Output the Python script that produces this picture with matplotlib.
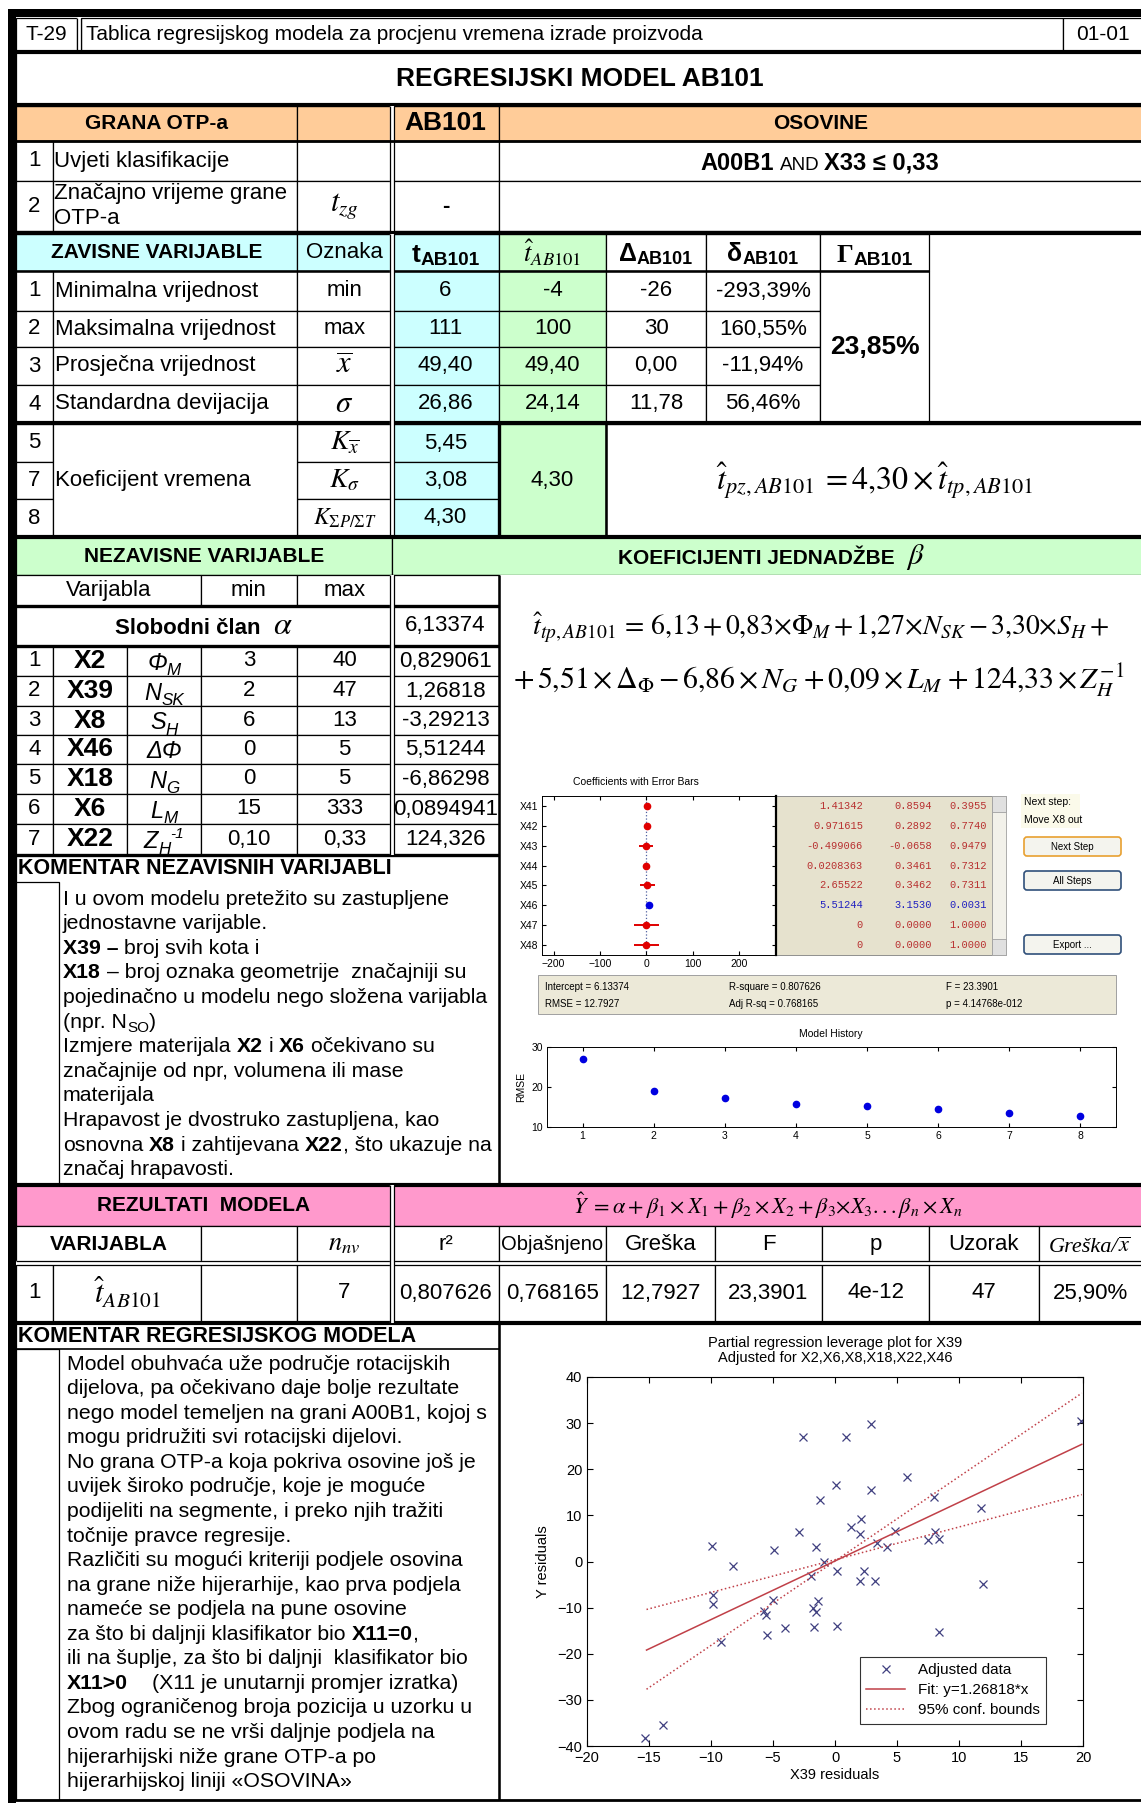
import matplotlib
matplotlib.use('Agg')
import matplotlib.pyplot as plt
from matplotlib.patches import Rectangle, FancyBboxPatch
from matplotlib.transforms import blended_transform_factory

# ---- data ----
doc_code = 'T-29'
doc_title = 'Tablica regresijskog modela za procjenu vremena izrade proizvoda'
doc_page = '01-01'
model_title = 'REGRESIJSKI MODEL AB101'

dep_labels = ['Minimalna vrijednost', 'Maksimalna vrijednost',
              'Prosječna vrijednost', 'Standardna devijacija']
dep_symbols = ['min', 'max', r'$\overline{x}$', r'$\sigma$']
t_ab101 = ['6', '111', '49,40', '26,86']
t_hat = ['-4', '100', '49,40', '24,14']
delta_abs = ['-26', '30', '0,00', '11,78']
delta_rel = ['-293,39%', '160,55%', '-11,94%', '56,46%']
gamma_val = '23,85%'

k_nums = ['5', '7', '8']
k_symbols = [r'$K_{\overline{x}}$', r'$K_{\sigma}$', r'$K_{\Sigma P/\Sigma T}$']
k_values = ['5,45', '3,08', '4,30']
k_model = '4,30'

ind_vars = ['X2', 'X39', 'X8', 'X46', 'X18', 'X6', 'X22']
ind_syms = [[('Φ', 'i'), ('M', 'isub')], [('N', 'i'), ('SK', 'isub')],
            [('S', 'i'), ('H', 'isub')], [('ΔΦ', 'i')], [('N', 'i'), ('G', 'isub')],
            [('L', 'i'), ('M', 'isub')], [('Z', 'i'), ('H', 'isub'), ('-1', 'isup')]]
ind_min = ['3', '2', '6', '0', '0', '15', '0,10']
ind_max = ['40', '47', '13', '5', '5', '333', '0,33']
ind_coef = ['0,829061', '1,26818', '-3,29213', '5,51244', '-6,86298', '0,0894941', '124,326']
intercept = '6,13374'

res_headers = ['r²', 'Objašnjeno', 'Greška', 'F', 'p', 'Uzorak']
res_values = ['0,807626', '0,768165', '12,7927', '23,3901', '4e-12', '47', '25,90%']
n_nv = '7'

# stepwise screenshot
sw_vars = ['X41', 'X42', 'X43', 'X44', 'X45', 'X46', 'X47', 'X48']
sw_coef = [1.41342, 0.971615, -0.499066, 0.0208363, 2.65522, 5.51244, 0, 0]
sw_tstat = [0.8594, 0.2892, -0.0658, 0.3461, 0.3462, 3.1530, 0.0, 0.0]
sw_pval = [0.3955, 0.7740, 0.9479, 0.7312, 0.7311, 0.0031, 1.0, 1.0]
sw_err = [4, 4, 16, 4, 17, 2, 27, 27]
sw_in = [False, False, False, False, False, True, False, False]
sw_stats = [['Intercept = 6.13374', 'R-square = 0.807626', 'F = 23.3901'],
            ['RMSE = 12.7927', 'Adj R-sq = 0.768165', 'p = 4.14768e-012']]
rmse_hist = [27.0, 18.9, 17.2, 15.7, 15.3, 14.4, 13.6, 12.79]

# partial regression leverage plot
pr_x = [19.8, -2.55, 0.9, 2.9, 0.05, 2.9, -1.24, 5.8, 8.0, 11.8, 2.1, 1.3, 2.0, -2.9, 4.8, 8.1,
        7.5, 8.4, 3.4, 4.2, -9.9, -4.9, -1.5, -8.2, -0.9, 0.16, 2.3, -1.9, 2.0, 3.2, 11.9, -9.8,
        -9.8, -5.0, -1.4, -1.8, -1.5, -5.7, -5.6, -5.5, -4.0, -1.7, 0.16, -9.2, 8.4, -13.9, -15.3]
pr_y = [30.4, 26.9, 26.9, 29.8, 16.6, 15.5, 13.3, 18.4, 14.0, 11.7, 9.2, 7.4, 5.9, 6.3, 6.7, 6.5,
        4.7, 4.8, 4.0, 3.1, 3.4, 2.6, 3.1, -0.9, -0.1, -2.0, -2.0, -3.1, -4.2, -4.2, -4.9, -7.2,
        -9.3, -8.3, -8.6, -10.0, -11.0, -10.8, -11.7, -15.9, -14.4, -14.2, -14.0, -17.5, -15.2, -35.5, -38.3]
fit_x = [-15.2, 19.9]
fit_y = [-19.2, 25.4]
conf_a = [-27.7, 36.5]
conf_b = [-10.4, 14.5]

comment1 = [
    [('I u ovom modelu pretežito su zastupljene', 'n')],
    [('jednostavne varijable.', 'n')],
    [('X39 –', 'b'), (' broj svih kota i', 'n')],
    [('X18', 'b'), (' – broj oznaka geometrije  značajniji su', 'n')],
    [('pojedinačno u modelu nego složena varijabla', 'n')],
    [('(npr. N', 'n'), ('SO', 'sub'), (')', 'n')],
    [('Izmjere materijala ', 'n'), ('X2', 'b'), (' i ', 'n'), ('X6', 'b'), (' očekivano su', 'n')],
    [('značajnije od npr, volumena ili mase', 'n')],
    [('materijala', 'n')],
    [('Hrapavost je dvostruko zastupljena, kao', 'n')],
    [('osnovna ', 'n'), ('X8', 'b'), (' i zahtijevana ', 'n'), ('X22', 'b'), (', što ukazuje na', 'n')],
    [('značaj hrapavosti.', 'n')],
]
comment2 = [
    [('Model obuhvaća uže područje rotacijskih', 'n')],
    [('dijelova, pa očekivano daje bolje rezultate', 'n')],
    [('nego model temeljen na grani A00B1, kojoj s', 'n')],
    [('mogu pridružiti svi rotacijski dijelovi.', 'n')],
    [('No grana OTP-a koja pokriva osovine još je', 'n')],
    [('uvijek široko područje, koje je moguće', 'n')],
    [('podijeliti na segmente, i preko njih tražiti', 'n')],
    [('točnije pravce regresije.', 'n')],
    [('Različiti su mogući kriteriji podjele osovina', 'n')],
    [('na grane niže hijerarhije, kao prva podjela', 'n')],
    [('nameće se podjela na pune osovine', 'n')],
    [('za što bi daljnji klasifikator bio ', 'n'), ('X11=0', 'b'), (',', 'n')],
    [('ili na šuplje, za što bi daljnji  klasifikator bio', 'n')],
    [('X11>0', 'b'), ('    (X11 je unutarnji promjer izratka)', 'n')],
    [('Zbog ograničenog broja pozicija u uzorku u', 'n')],
    [('ovom radu se ne vrši daljnje podjela na', 'n')],
    [('hijerarhijski niže grane OTP-a po', 'n')],
    [('hijerarhijskoj liniji «OSOVINA»', 'n')],
]

# ---- figure in pixel coordinates ----
W, H = 1141, 1803
plt.rcParams['font.family'] = ['Liberation Sans', 'DejaVu Sans']
plt.rcParams['mathtext.fontset'] = 'stix'

fig = plt.figure(figsize=(W / 100, H / 100), dpi=100)
ax = fig.add_axes([0, 0, 1, 1])
ax.set_xlim(0, W)
ax.set_ylim(H, 0)
ax.axis('off')
renderer = fig.canvas.get_renderer()

ORANGE = '#FFCC99'
CYAN = '#CCFFFF'
GREEN = '#CCFFCC'
PINK = '#FF99CC'


def px_axes(x0, y0, x1, y1):
    return fig.add_axes([x0 / W, 1 - y1 / H, (x1 - x0) / W, (y1 - y0) / H])


def rect(x0, y0, x1, y1, fc='white', lw=0.9, ec='black', z=1):
    ax.add_patch(Rectangle((x0, y0), x1 - x0, y1 - y0, facecolor=fc,
                           edgecolor=ec, linewidth=lw, zorder=z))


def text(x, y, s, size=16, ha='center', va='center', **kw):
    return ax.text(x, y, s, fontsize=size, ha=ha, va=va, zorder=6, **kw)


def cell(x0, y0, x1, y1, s='', fc='white', size=16, ha='center', pad=4, **kw):
    rect(x0, y0, x1, y1, fc)
    if s:
        tx = (x0 + x1) / 2 if ha == 'center' else x0 + pad
        text(tx, (y0 + y1) / 2, s, size=size, ha=ha, **kw)


def hline(y, x0, x1, lw=2.4):
    ax.plot([x0, x1], [y, y], color='black', lw=lw, solid_capstyle='butt', zorder=5)


def vline(x, y0, y1, lw=2.4):
    ax.plot([x, x], [y0, y1], color='black', lw=lw, solid_capstyle='butt', zorder=5)


def dvline(x, y0, y1):
    ax.plot([x, x], [y0, y1], color='white', lw=3, solid_capstyle='butt', zorder=5)
    vline(x - 2, y0, y1, lw=0.9)
    vline(x + 2, y0, y1, lw=0.9)


def dhline(y, x0, x1):
    ax.plot([x0, x1], [y, y], color='white', lw=3, solid_capstyle='butt', zorder=5)
    hline(y - 2, x0, x1, lw=0.9)
    hline(y + 2, x0, x1, lw=0.9)


STY = {
    'n': ({}, 1.0, 0.0),
    'b': ({'fontweight': 'bold'}, 1.0, 0.0),
    'i': ({'fontstyle': 'italic'}, 1.0, 0.0),
    'sm': ({}, 0.8, 0.0),
    'sub': ({}, 0.72, 0.22),
    'bsub': ({'fontweight': 'bold'}, 0.72, 0.12),
    'isub': ({'fontstyle': 'italic'}, 0.72, 0.25),
    'isup': ({'fontstyle': 'italic'}, 0.65, -0.42),
    'si': ({'family': 'Liberation Serif', 'fontstyle': 'italic'}, 1.0, 0.0),
    'sb': ({'family': 'Liberation Serif', 'fontweight': 'bold'}, 1.0, 0.0),
    'm': ({}, 1.0, 0.0),
    'mb': ({}, 1.45, 0.0),
}


def rich(x, y, segs, size=16, ha='left', yc=True):
    # y is the vertical centre of the text line (yc) or its baseline
    fpx = size * 100 / 72
    base = y + 0.36 * fpx if yc else y
    arts = []
    cur = 0.0
    for s, st in segs:
        kw, sc, dy = STY[st]
        sp = 0.278 * fpx * sc
        lead = len(s) - len(s.lstrip(' '))
        trail = len(s) - len(s.rstrip(' '))
        cur += lead * sp
        t = ax.text(x + cur, base + dy * fpx, s.strip(' '), fontsize=size * sc,
                    ha='left', va='baseline', zorder=6, **kw)
        w = t.get_window_extent(renderer).width
        arts.append((t, cur))
        cur += w + trail * sp
    if ha == 'center':
        for t, c in arts:
            t.set_x(x - cur / 2 + c)
    return cur


# column edges
X0, XN, XV, XS, XO, XT, XH, XD, XL, XG, XE, XR = 16, 53, 127, 201, 297, 392, 499, 606, 706, 820, 929, 1141
RES_COLS = [392, 499, 606, 715, 822, 929, 1039, 1141]

# outer black frame
rect(8, 9, W + 5, 17, fc='black', lw=0)
rect(8, 9, 16, H, fc='black', lw=0)
hline(1800, 8, W, lw=2)

# document header row
cell(X0, 18, 77, 52, doc_code, size=15)
cell(81, 18, 1063, 52, doc_title, size=15, ha='left', pad=5)
cell(1063, 18, XR + 2, 52, doc_page, size=15)
dvline(79, 18, 52)
hline(52, X0, XR, lw=3)
cell(X0, 52, XR + 2, 105, model_title, size=19, fontweight='bold')
hline(105, X0, XR, lw=3)

# branch rows
cell(X0, 106, XO, 141, 'GRANA OTP-a', fc=ORANGE, size=15, fontweight='bold')
cell(XO, 106, XT, 141, fc=ORANGE)
cell(XT, 106, XH, 141, 'AB101', fc=ORANGE, size=19, fontweight='bold')
cell(XH, 106, XR + 2, 141, 'OSOVINE', fc=ORANGE, size=15, fontweight='bold')
cell(X0, 141, XN, 181, '1', size=16)
cell(XN, 141, XO, 181, 'Uvjeti klasifikacije', size=16, ha='left', pad=1)
cell(XO, 141, XT, 181)
cell(XT, 141, XH, 181)
cell(XH, 141, XR + 2, 181)
rich((XH + XR) / 2, 161, [('A00B1', 'b'), (' AND ', 'sm'), ('X33 ≤ 0,33', 'b')], size=17, ha='center')
cell(X0, 181, XN, 231, '2', size=16)
cell(XN, 181, XO, 231)
text(XN + 1, 194, 'Značajno vrijeme grane', size=16, ha='left')
text(XN + 1, 218, 'OTP-a', size=16, ha='left')
cell(XO, 181, XT, 231, r'$t_{zg}$', size=22)
cell(XT, 181, XH, 231, '-', size=16, fontweight='bold')
cell(XH, 181, XR + 2, 231)
dvline(XT, 106, 231)
hline(141, X0, XR, lw=2)

# dependent variables
cell(X0, 234, XO, 271, 'ZAVISNE VARIJABLE', fc=CYAN, size=15, fontweight='bold')
cell(XO, 234, XT, 271, 'Oznaka', fc=CYAN, size=16)
cell(XT, 234, XH, 271, fc=CYAN)
rich((XT + XH) / 2, 252, [('t', 'b'), ('AB101', 'bsub')], size=19, ha='center')
cell(XH, 234, XD, 271, r'$\hat{t}_{AB101}$', fc=GREEN, size=19)
cell(XD, 234, XL, 271)
rich((XD + XL) / 2, 252, [('Δ', 'b'), ('AB101', 'bsub')], size=18, ha='center')
cell(XL, 234, XG, 271)
rich((XL + XG) / 2, 252, [('δ', 'b'), ('AB101', 'bsub')], size=18, ha='center')
cell(XG, 234, XE, 271)
rich((XG + XE) / 2, 252, [('Γ', 'sb'), ('AB101', 'bsub')], size=19, ha='center')

dep_y = [271, 311, 347, 385, 423]
for i in range(4):
    y0, y1 = dep_y[i], dep_y[i + 1]
    cell(X0, y0, XN, y1, str(i + 1), size=16)
    cell(XN, y0, XO, y1, dep_labels[i], size=16, ha='left', pad=2)
    sym_size = 16 if i < 2 else 22
    cell(XO, y0, XT, y1, dep_symbols[i], size=sym_size)
    cell(XT, y0, XH, y1, t_ab101[i], fc=CYAN, size=16)
    cell(XH, y0, XD, y1, t_hat[i], fc=GREEN, size=16)
    cell(XD, y0, XL, y1, delta_abs[i], size=16)
    cell(XL, y0, XG, y1, delta_rel[i], size=16)
cell(XG, 271, XE, 423, gamma_val, size=19, fontweight='bold')
hline(233, X0, XR, lw=3)
hline(271, X0, XE, lw=1.8)
hline(423, X0, XR, lw=3)

# time coefficients
k_y = [424, 462, 499, 537]
for i in range(3):
    y0, y1 = k_y[i], k_y[i + 1]
    cell(X0, y0, XN, y1, k_nums[i], size=16)
    cell(XO, y0, XT, y1, k_symbols[i], size=20 if i < 2 else 17)
    cell(XT, y0, XH, y1, k_values[i], fc=CYAN, size=16)
cell(XN, 424, XO, 537, 'Koeficijent vremena', size=16, ha='left', pad=2)
cell(XH, 424, XD, 537, k_model, fc=GREEN, size=16)
cell(XD, 424, XR + 2, 537, r'$\hat{t}_{pz,AB101}\,=4{,}30\times\hat{t}_{tp,AB101}$', size=23)
vline(XH, 424, 537, lw=2.4)
vline(XD, 424, 537, lw=1.8)
dvline(XT, 234, 537)

# independent variables
cell(X0, 537, XT, 575, 'NEZAVISNE VARIJABLE', fc=GREEN, size=15, fontweight='bold')
cell(XT, 537, XR + 2, 575, fc=GREEN)
rich((XT + XR) / 2 + 5, 556, [('KOEFICIJENTI JEDNADŽBE', 'b'), (' ', 'n'), (r'$\beta$', 'mb')],
     size=15, ha='center')
hline(537, X0, XR, lw=3)
rect(XT, 575, XR + 2, 855, lw=0)  # right white area
cell(X0, 575, XS, 606, 'Varijabla', size=16)
cell(XS, 575, XO, 606, 'min', size=16)
cell(XO, 575, XT, 606, 'max', size=16)
cell(XT, 575, XH, 606)
cell(X0, 606, XT, 646)
rich((X0 + XT) / 2, 626, [('Slobodni član', 'b'), (' ', 'n'), (r'$\alpha$', 'mb')], size=16, ha='center')
cell(XT, 606, XH, 646, intercept, size=16)

ind_y = [646, 676, 706, 735, 764, 794, 824, 855]
for i in range(7):
    y0, y1 = ind_y[i], ind_y[i + 1]
    yc = (y0 + y1) / 2
    cell(X0, y0, XN, y1, str(i + 1), size=16)
    cell(XN, y0, XV, y1, ind_vars[i], size=19, fontweight='bold')
    cell(XV, y0, XS, y1)
    rich((XV + XS) / 2, yc, ind_syms[i], size=17, ha='center')
    cell(XS, y0, XO, y1, ind_min[i], size=16)
    cell(XO, y0, XT, y1, ind_max[i], size=16)
    cell(XT, y0, XH, y1, ind_coef[i], size=16)
hline(606, X0, XH, lw=2.4)
hline(646, X0, XH, lw=2.4)
hline(855, X0, XH, lw=2.4)
dvline(XT, 575, 855)
vline(XH, 575, 1185, lw=1.8)

text(532, 628, r'$\hat{t}_{tp,AB101}\,{=}\,6{,}13\,{+}\,0{,}83{\times}\Phi_M\,{+}\,1{,}27{\times}N_{SK}'
     r'\,{-}\,3{,}30{\times}S_H\,{+}$', size=20, ha='left')
text(513, 680, r'$+\,5{,}51\,{\times}\,\Delta_\Phi\,{-}\,6{,}86\,{\times}\,N_G\;{+}\,0{,}09\,{\times}\,L_M'
     r'\;{+}\,124{,}33\,{\times}\,Z_H^{-1}$', size=21.5, ha='left')

# comment on independent variables
rect(X0, 855, XH, 1185)
text(X0 + 2, 869, 'KOMENTAR NEZAVISNIH VARIJABLI', size=15.5, ha='left', fontweight='bold')
rect(X0, 882, 59, 1185)
for k, segs in enumerate(comment1):
    rich(63, 897 + k * 24.6, segs, size=15.3)

# ---- stepwise regression screenshot ----
ax1 = px_axes(542, 796, 776, 955)
for i in range(len(sw_vars)):
    col = '#0000E0' if sw_in[i] else '#E00000'
    ax1.errorbar(sw_coef[i], i + 1, xerr=sw_err[i], fmt='o', color=col, ms=4.5, lw=1.4, capsize=0)
ax1.axvline(0, color='#5060A0', ls=':', lw=0.9, zorder=0)
ax1.set_xlim(-225, 280)
ax1.set_ylim(8.5, 0.5)
ax1.set_yticks(range(1, len(sw_vars) + 1))
ax1.set_yticklabels(sw_vars)
ax1.set_xticks([-200, -100, 0, 100, 200])
ax1.tick_params(direction='in', labelsize=7.5, length=3, top=True, right=True, pad=3)
for sp in ax1.spines.values():
    sp.set_linewidth(0.7)
ax1.spines['right'].set_linewidth(1.6)
text(636, 782, 'Coefficients with Error Bars', size=7.5)

rect(776, 796, 992, 955, fc='#E6E2CE', lw=0.6, ec='#808080')
rect(992, 796, 1006, 955, fc='#F2F1EA', lw=0.6, ec='#A0A0A0')
rect(992, 796, 1006, 812, fc='#E0E0E0', lw=0.6, ec='#A0A0A0')
rect(992, 939, 1006, 955, fc='#E0E0E0', lw=0.6, ec='#A0A0A0')
tr = blended_transform_factory(ax.transData, ax1.transData)
for i in range(len(sw_vars)):
    col = '#2020C0' if sw_in[i] else '#B83030'
    for xr, s in zip([863, 932, 987], [f'{sw_coef[i]:g}', f'{sw_tstat[i]:.4f}', f'{sw_pval[i]:.4f}']):
        ax.text(xr, i + 1, s, transform=tr, ha='right', va='center', fontsize=7.5,
                family='Liberation Mono', color=col, zorder=6)

rect(1021, 794, 1080, 828, fc='#FBFAEA', lw=0)
text(1024, 802, 'Next step:', size=7.5, ha='left')
text(1024, 820, 'Move X8 out', size=7.5, ha='left')
for (by, lab, ec) in [(837, 'Next Step', '#E8A030'), (871, 'All Steps', '#30507A'), (935, 'Export ...', '#30507A')]:
    ax.add_patch(FancyBboxPatch((1024, by), 97, 19, boxstyle='round,pad=0,rounding_size=3',
                                facecolor='#F4F4EE', edgecolor=ec, linewidth=1.2, zorder=3))
    text(1072, by + 9.5, lab, size=7)

rect(538, 975, 1116, 1014, fc='#ECE9D8', lw=0.7, ec='#A0A0A0')
for r, row in enumerate(sw_stats):
    for xs, s in zip([545, 729, 946], row):
        text(xs, 987 + r * 17, s, size=7, ha='left')

ax2 = px_axes(547, 1047, 1116, 1127)
ax2.plot(range(1, len(rmse_hist) + 1), rmse_hist, 'o', color='#0000E0', ms=4.5)
ax2.set_xlim(0.5, 8.5)
ax2.set_ylim(10, 30)
ax2.set_yticks([10, 20, 30])
ax2.set_xticks(range(1, 9))
ax2.tick_params(direction='in', labelsize=7.5, length=3, top=True, right=True, pad=3)
ax2.set_ylabel('RMSE', fontsize=7.5, labelpad=4)
for sp in ax2.spines.values():
    sp.set_linewidth(0.7)
text(831, 1034, 'Model History', size=7.5)

# ---- model results ----
cell(X0, 1185, XT, 1226, 'REZULTATI  MODELA', fc=PINK, size=15, fontweight='bold')
cell(XT, 1185, XR + 2, 1226,
     r'$\hat{Y}\ =\alpha+\beta_1\times X_1+\beta_2\times X_2+\beta_3{\times}X_3...\beta_n\times X_n$',
     fc=PINK, size=16)
cell(X0, 1226, XS, 1263, 'VARIJABLA', size=15, fontweight='bold')
cell(XS, 1226, XO, 1263)
cell(XO, 1226, XT, 1263, r'$n_{nv}$', size=19)
for j, hd in enumerate(res_headers):
    cell(RES_COLS[j], 1226, RES_COLS[j + 1], 1263, hd, size=14.5 if j == 1 else 16)
cell(RES_COLS[6], 1226, RES_COLS[7] + 2, 1263)
rich((RES_COLS[6] + RES_COLS[7]) / 2, 1244, [('Greška/', 'si'), (r'$\overline{x}$', 'm')], size=16, ha='center')
cell(X0, 1263, XN, 1323, '1', size=16)
cell(XN, 1263, XS, 1323, r'$\hat{t}_{AB101}$', size=22)
cell(XS, 1263, XO, 1323)
cell(XO, 1263, XT, 1323, n_nv, size=16)
for j, v in enumerate(res_values):
    cell(RES_COLS[j], 1263, RES_COLS[j + 1] + (2 if j == 6 else 0), 1323, v, size=16)
hline(1185, X0, XR, lw=3)
dhline(1263, X0, XR)
hline(1323, X0, XR, lw=3)
dvline(XT, 1185, 1323)

# comment on the regression model
rect(X0, 1323, XH, 1800)
text(X0 + 2, 1336, 'KOMENTAR REGRESIJSKOG MODELA', size=15.5, ha='left', fontweight='bold')
hline(1349, X0, XH, lw=1.2)
rect(X0, 1349, 59, 1800)
for k, segs in enumerate(comment2):
    rich(67, 1362 + k * 24.56, segs, size=15.3)
vline(XH, 1323, 1800, lw=1.8)

# ---- partial regression leverage plot ----
ax3 = px_axes(587, 1377, 1083, 1746)
ax3.plot(pr_x, pr_y, 'x', color='#404080', ms=5.5, mew=0.9, label='Adjusted data')
ax3.plot(fit_x, fit_y, '-', color='#C04048', lw=1.1, label='Fit: y=1.26818*x')
ax3.plot(fit_x, conf_a, ':', color='#C04048', lw=1.1, label='95% conf. bounds')
ax3.plot(fit_x, conf_b, ':', color='#C04048', lw=1.1)
ax3.set_xlim(-20, 20)
ax3.set_ylim(-40, 40)
ax3.set_xticks(range(-20, 21, 5))
ax3.set_yticks(range(-40, 41, 10))
ax3.tick_params(direction='in', labelsize=10.5, length=4, top=True, right=True)
ax3.set_xlabel('X39 residuals', fontsize=10.5, labelpad=2)
ax3.set_ylabel('Y residuals', fontsize=10.5, labelpad=5)
ax3.set_title('Partial regression leverage plot for X39\nAdjusted for X2,X6,X8,X18,X22,X46',
              fontsize=10.5, pad=11, linespacing=1.05)
leg = ax3.legend(loc='lower right', bbox_to_anchor=(0.94, 0.04), fontsize=11, frameon=True,
                 fancybox=False, edgecolor='black', borderpad=0.4, handlelength=2.6,
                 labelspacing=0.4)
leg.get_frame().set_linewidth(0.8)

fig.savefig('out.png', dpi=100)
